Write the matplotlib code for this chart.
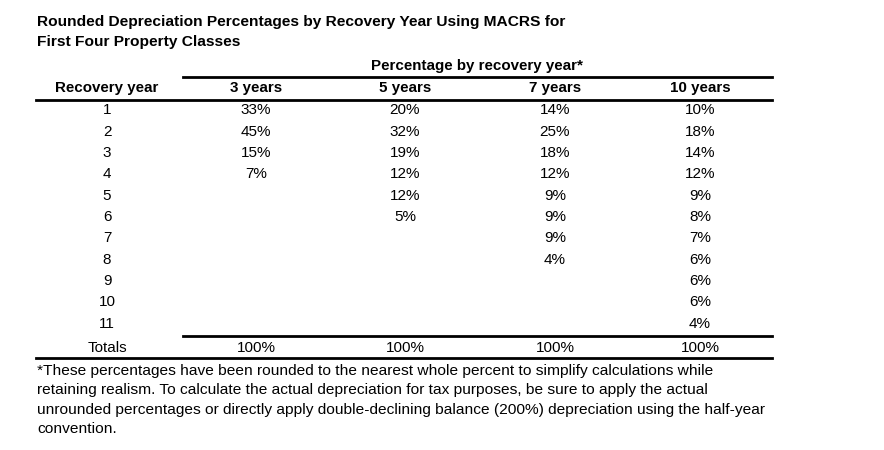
import matplotlib
matplotlib.use("Agg")
import matplotlib.pyplot as plt
from matplotlib.lines import Line2D

plt.rcParams['font.family'] = ['Liberation Sans', 'DejaVu Sans']

title_lines = ["Rounded Depreciation Percentages by Recovery Year Using MACRS for",
               "First Four Property Classes"]
group_header = "Percentage by recovery year*"
row_header = "Recovery year"
columns = ["3 years", "5 years", "7 years", "10 years"]
recovery_years = ["1", "2", "3", "4", "5", "6", "7", "8", "9", "10", "11"]
pct_3yr = [33, 45, 15, 7]
pct_5yr = [20, 32, 19, 12, 12, 5]
pct_7yr = [14, 25, 18, 12, 9, 9, 9, 4]
pct_10yr = [10, 18, 14, 12, 9, 8, 7, 6, 6, 6, 4]
totals = ["100%", "100%", "100%", "100%"]
footnote = ["*These percentages have been rounded to the nearest whole percent to simplify calculations while",
            "retaining realism. To calculate the actual depreciation for tax purposes, be sure to apply the actual",
            "unrounded percentages or directly apply double-declining balance (200%) depreciation using the half-year",
            "convention."]

W, H = 884, 450
fig = plt.figure(figsize=(W / 100, H / 100), dpi=100)
fig.patch.set_facecolor('white')

def fx(x):
    return x / W

def fy(y):
    return 1 - y / H

def txt(x, y, s, ha='center', weight='normal', size=11):
    fig.text(fx(x), fy(y), s, ha=ha, va='center', fontsize=size, fontweight=weight, color='black')

def hline(x0, x1, y, lw=2.0):
    fig.add_artist(Line2D([fx(x0), fx(x1)], [fy(y), fy(y)], color='black', lw=lw,
                          transform=fig.transFigure))

# Title
txt(37, 22, title_lines[0], ha='left', weight='bold', size=11.15)
txt(37, 42, title_lines[1], ha='left', weight='bold', size=11.15)

# Group header
txt(477, 66, group_header, weight='bold', size=10.9)
hline(183, 772, 77)

col_x = [256, 405, 555, 700]
row_x = 107
txt(row_x, 88, row_header, weight='bold', size=10.9)
for cx, c in zip(col_x, columns):
    txt(cx, 88, c, weight='bold', size=10.9)
hline(36, 772, 100)

series = [pct_3yr, pct_5yr, pct_7yr, pct_10yr]
y0, dy = 110.5, 21.3
for i, ry in enumerate(recovery_years):
    y = y0 + i * dy
    txt(row_x, y, ry)
    for cx, s in zip(col_x, series):
        if i < len(s):
            txt(cx, y, f"{s[i]}%")

hline(183, 772, 336)
txt(row_x, 347.5, "Totals")
for cx, t in zip(col_x, totals):
    txt(cx, 347.5, t)
hline(36, 772, 358)

for i, line in enumerate(footnote):
    txt(37, 371 + i * 19.3, line, ha='left', size=11.15)

fig.savefig("out.png", dpi=100, facecolor='white')
